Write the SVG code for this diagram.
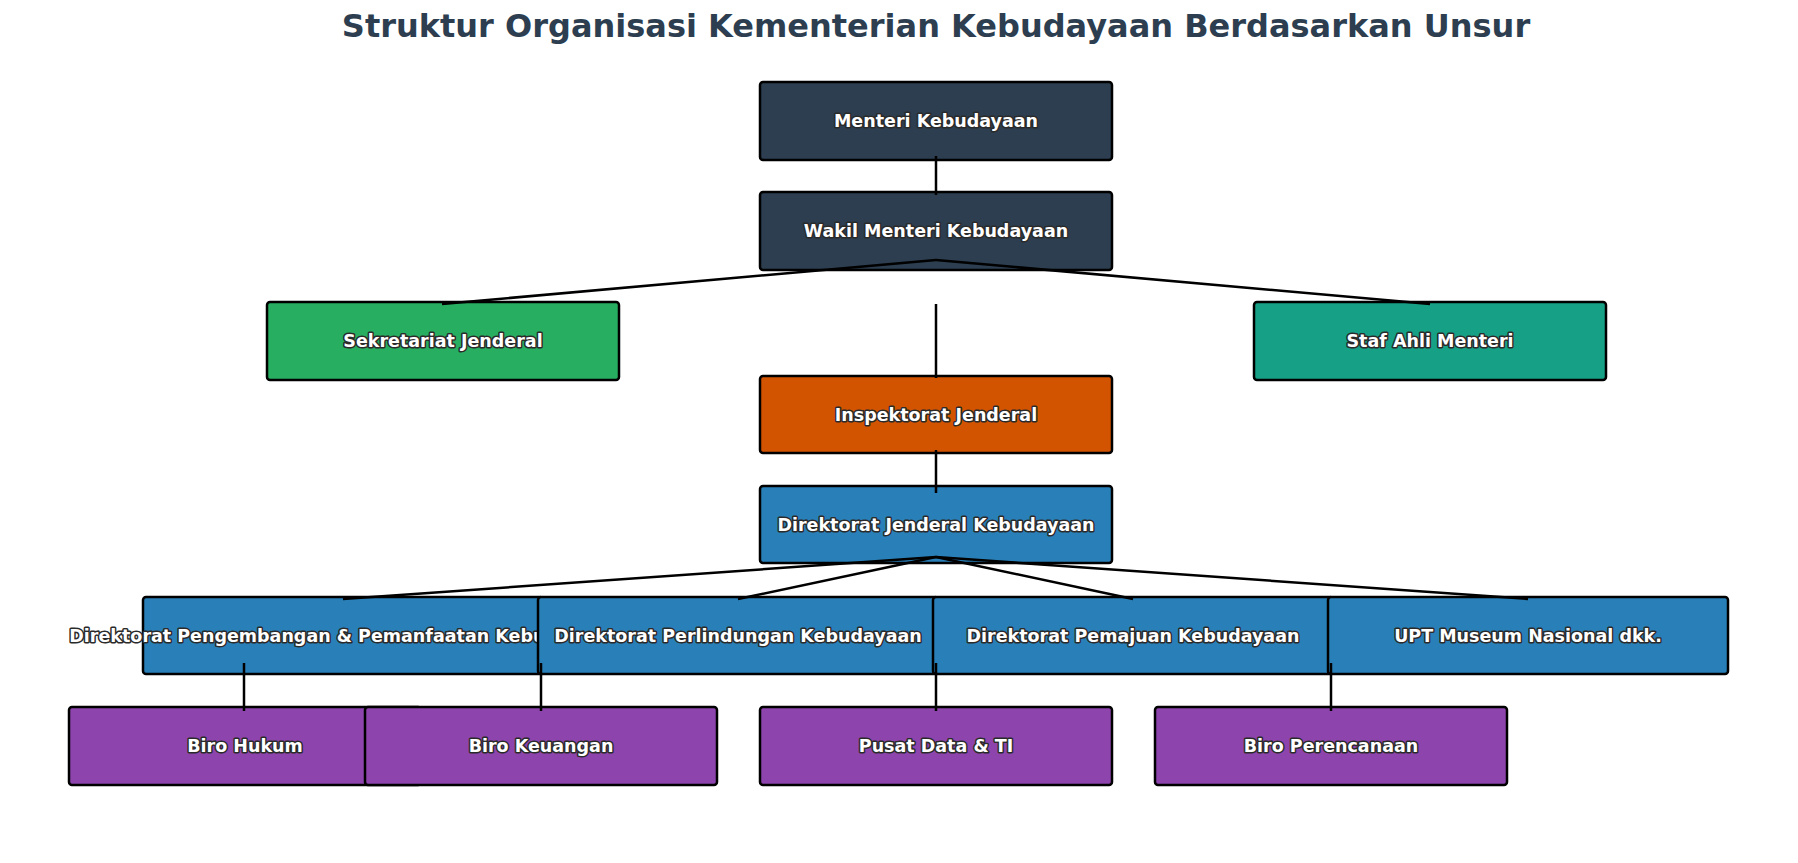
<svg xmlns="http://www.w3.org/2000/svg" width="1798" height="863" viewBox="0 0 1798 863">
<style>
.box{stroke:#000;stroke-width:2.5}
.lbl{font-family:"DejaVu Sans","Liberation Sans",sans-serif;font-weight:bold;font-size:17.5px;fill:#fff;stroke:#2a2a2a;stroke-width:3;paint-order:stroke;stroke-linejoin:round;text-anchor:middle}
.title{font-family:"DejaVu Sans","Liberation Sans",sans-serif;font-weight:bold;font-size:32px;fill:#2c3e50;text-anchor:middle}
.c{stroke:#000;stroke-width:2.5;fill:none}
.dark{fill:#2c3e50}.green{fill:#27ae60}.teal{fill:#16a085}.orange{fill:#d35400}.blue{fill:#2980b9}.purple{fill:#8e44ad}
</style>
<rect width="1798" height="863" fill="#fff"/>
<text class="title" x="936" y="37">Struktur Organisasi Kementerian Kebudayaan Berdasarkan Unsur</text>
<g id="n-menteri"><rect class="box dark" x="760" y="82" width="352" height="78" rx="3"/><text class="lbl" x="936" y="127">Menteri Kebudayaan</text></g>
<g id="n-wakil"><rect class="box dark" x="760" y="192" width="352" height="78" rx="3"/><text class="lbl" x="936" y="237">Wakil Menteri Kebudayaan</text></g>
<g id="n-sekjen"><rect class="box green" x="267" y="302" width="352" height="78" rx="3"/><text class="lbl" x="443" y="347">Sekretariat Jenderal</text></g>
<g id="n-staf"><rect class="box teal" x="1254" y="302" width="352" height="78" rx="3"/><text class="lbl" x="1430" y="347">Staf Ahli Menteri</text></g>
<g id="n-irjen"><rect class="box orange" x="760" y="376" width="352" height="77" rx="3"/><text class="lbl" x="936" y="420.5">Inspektorat Jenderal</text></g>
<g id="n-dirjen"><rect class="box blue" x="760" y="486" width="352" height="77" rx="3"/><text class="lbl" x="936" y="530.5">Direktorat Jenderal Kebudayaan</text></g>
<g id="n-dir1"><rect class="box blue" x="143" y="597" width="400" height="77" rx="3"/><text class="lbl" x="343" y="641.5">Direktorat Pengembangan &amp; Pemanfaatan Kebudayaan</text></g>
<g id="n-dir2"><rect class="box blue" x="538" y="597" width="400" height="77" rx="3"/><text class="lbl" x="738" y="641.5">Direktorat Perlindungan Kebudayaan</text></g>
<g id="n-dir3"><rect class="box blue" x="933" y="597" width="400" height="77" rx="3"/><text class="lbl" x="1133" y="641.5">Direktorat Pemajuan Kebudayaan</text></g>
<g id="n-dir4"><rect class="box blue" x="1328" y="597" width="400" height="77" rx="3"/><text class="lbl" x="1528" y="641.5">UPT Museum Nasional dkk.</text></g>
<g id="n-hukum"><rect class="box purple" x="69" y="707" width="352" height="78" rx="3"/><text class="lbl" x="245" y="752">Biro Hukum</text></g>
<g id="n-keuangan"><rect class="box purple" x="365" y="707" width="352" height="78" rx="3"/><text class="lbl" x="541" y="752">Biro Keuangan</text></g>
<g id="n-pusdatin"><rect class="box purple" x="760" y="707" width="352" height="78" rx="3"/><text class="lbl" x="936" y="752">Pusat Data &amp; TI</text></g>
<g id="n-perencanaan"><rect class="box purple" x="1155" y="707" width="352" height="78" rx="3"/><text class="lbl" x="1331" y="752">Biro Perencanaan</text></g>
<g id="connectors">
<line class="c" x1="936" y1="156" x2="936" y2="195"/>
<line class="c" x1="936" y1="260" x2="442" y2="304"/>
<line class="c" x1="936" y1="260" x2="1430" y2="304"/>
<line class="c" x1="936" y1="304" x2="936" y2="378"/>
<line class="c" x1="936" y1="450" x2="936" y2="493"/>
<line class="c" x1="936" y1="557" x2="343" y2="599"/>
<line class="c" x1="936" y1="557" x2="738" y2="599"/>
<line class="c" x1="936" y1="557" x2="1133" y2="599"/>
<line class="c" x1="936" y1="557" x2="1528" y2="599"/>
<line class="c" x1="244" y1="663" x2="244" y2="711"/>
<line class="c" x1="541" y1="663" x2="541" y2="711"/>
<line class="c" x1="936" y1="663" x2="936" y2="711"/>
<line class="c" x1="1331" y1="663" x2="1331" y2="711"/>
</g>
</svg>
